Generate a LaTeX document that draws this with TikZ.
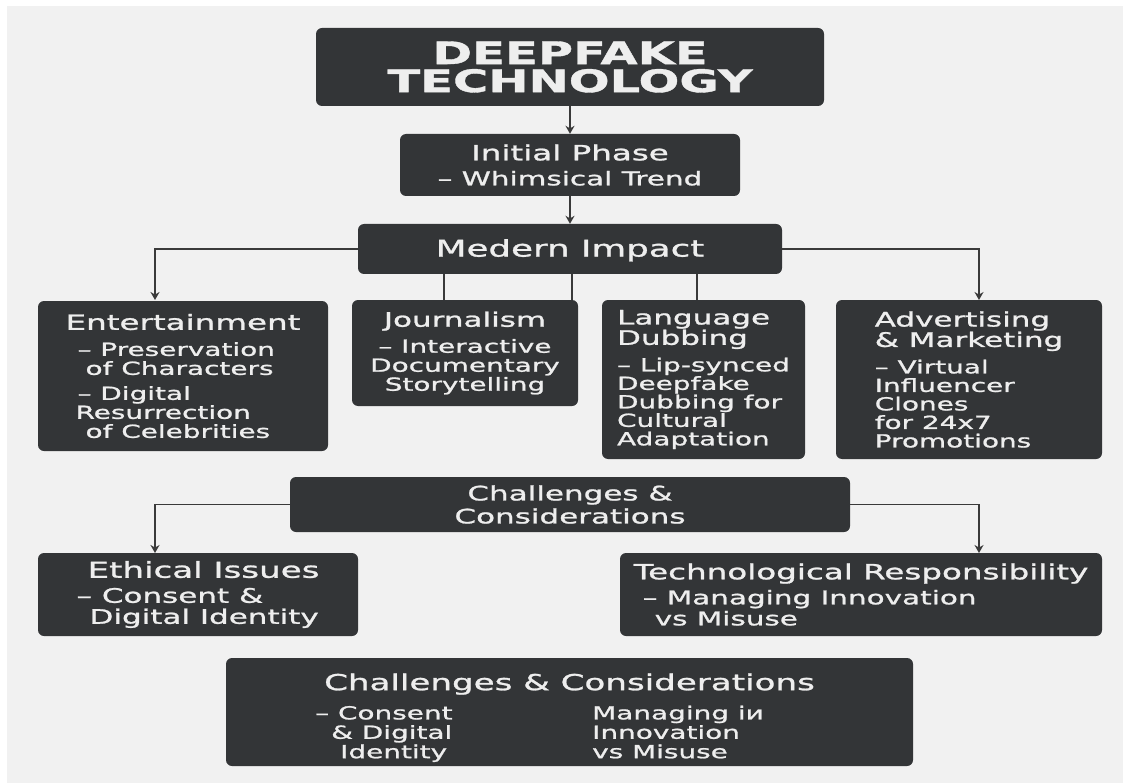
\documentclass[tikz,border=0pt]{standalone}
\usepackage{fontspec}
\setmainfont{DejaVu Sans}[FakeStretch=1.55, FakeBold=1.2]
\usetikzlibrary{arrows.meta}

\definecolor{bggray}{HTML}{F1F1F1}
\definecolor{boxgray}{HTML}{333537}
\definecolor{txtwhite}{HTML}{EEEEEE}
\definecolor{linegray}{HTML}{3A3A3A}
\newcommand{\fsz}[2]{\fontsize{#1}{#2}\selectfont}

\tikzset{
  blk/.style={rectangle, rounded corners=6pt, fill=boxgray, text=txtwhite, inner sep=0pt},
  conn/.style={draw=linegray, line width=1.8pt},
  arr/.style={conn, -{Stealth[length=8pt,width=9pt]}},
}

\begin{document}
\begin{tikzpicture}[x=1pt, y=-1pt]
  \useasboundingbox (0,0) rectangle (1123,783);
  \fill[white] (0,0) rectangle (1123,783);
  \fill[bggray] (7,6) rectangle (1123,783);

  % top of the tree
  \node[blk, minimum width=508, minimum height=78, align=center, font={\bfseries\fsz{31}{28}}] (title) at (570,67) {DEEPFAKE\\TECHNOLOGY};
  \node[blk, minimum width=340, minimum height=62, align=center, font={\fsz{19}{25}}] (init) at (570,165) {{\fsz{21}{25}Initial Phase}\\– Whimsical Trend};
  \node[blk, minimum width=424, minimum height=50, font={\fsz{23}{25}}] (impact) at (570,249) {\rule{0pt}{20pt}Medern Impact};

  % fields of use
  \node[blk, minimum width=290, minimum height=150, align=left, font={\fsz{18}{19}}] (ent) at (183,376)
    {{\fsz{21}{19}Entertainment}\\[7pt]
     \hspace*{12pt}– Preservation\\
     \hspace*{20pt}of Characters\\[6pt]
     \hspace*{12pt}– Digital\\
     \hspace*{10pt}Resurrection\\
     \hspace*{20pt}of Celebrities};
  \node[blk, minimum width=226, minimum height=106, align=center, font={\fsz{18}{19}}] (jour) at (465,353)
    {{\fsz{20}{19}Journalism}\\[7pt]
     – Interactive\\
     Documentary\\
     Storytelling};
  \node[blk, minimum width=203, minimum height=159, align=left, font={\fsz{18}{18.5}}] (lang) at (703.5,379.5)
    {{\fsz{20}{21}Language}\\
     {\fsz{20}{21}Dubbing}\\[8pt]
     – Lip-synced\\
     Deepfake\\
     Dubbing for\\
     Cultural\\
     Adaptation};
  \node[blk, minimum width=266, minimum height=159, align=left, font={\fsz{18}{18.5}}] (adv) at (969,379.5)
    {{\fsz{20}{21}Advertising}\\
     {\fsz{20}{21}\& Marketing}\\[8pt]
     – Virtual\\
     Influencer\\
     Clones\\
     for 24x7\\
     Promotions};

  % challenges
  \node[blk, minimum width=560, minimum height=55, align=center, font={\fsz{20}{23}}] (chal) at (570,504.5) {Challenges \&\\Considerations};
  \node[blk, minimum width=320, minimum height=83, align=left, font={\fsz{20}{21}}] (eth) at (198,594.5)
    {\hspace*{11pt}{\fsz{22}{21}Ethical Issues}\\[4pt]
     – Consent \&\\
     \hspace*{13pt}Digital Identity};
  \node[blk, minimum width=482, minimum height=83, align=left, font={\fsz{19}{21}}] (tech) at (861,594.5)
    {{\fsz{21}{21}Technological Responsibility}\\[4pt]
     \hspace*{9pt}– Managing Innovation\\
     \hspace*{21pt}vs Misuse};

  \node[blk, minimum width=687, minimum height=108, align=center, font={\fsz{18}{19}}] (sum) at (569.5,712)
    {\rule{0pt}{30pt}{\fsz{22}{24}Challenges \& Considerations}\\[10pt]
     \begin{tabular}{@{}p{277pt}@{}l@{}}
       – Consent & Managing iи\\
       \hspace*{16pt}\& Digital & Innovation\\
       \hspace*{25pt}Identity & vs Misuse
     \end{tabular}\hspace*{60pt}};

  % connectors
  \coordinate (entin) at (155,300);
  \coordinate (advin) at (979,300);
  \coordinate (ethin) at (155,553);
  \coordinate (techin) at (979,553);

  \draw[arr] (title) -- (init);
  \draw[arr] (init) -- (impact);
  \draw[arr] (impact.west) -| (entin);
  \draw[arr] (impact.east) -| (advin);
  \draw[conn] (impact.south -| 444,0) -- (jour.north -| 444,0);
  \draw[conn] (impact.south -| 572,0) -- (jour.north -| 572,0);
  \draw[conn] (impact.south -| 697,0) -- (lang.north -| 697,0);

  \draw[arr] (chal.west) -| (ethin);
  \draw[arr] (chal.east) -| (techin);
\end{tikzpicture}
\end{document}
